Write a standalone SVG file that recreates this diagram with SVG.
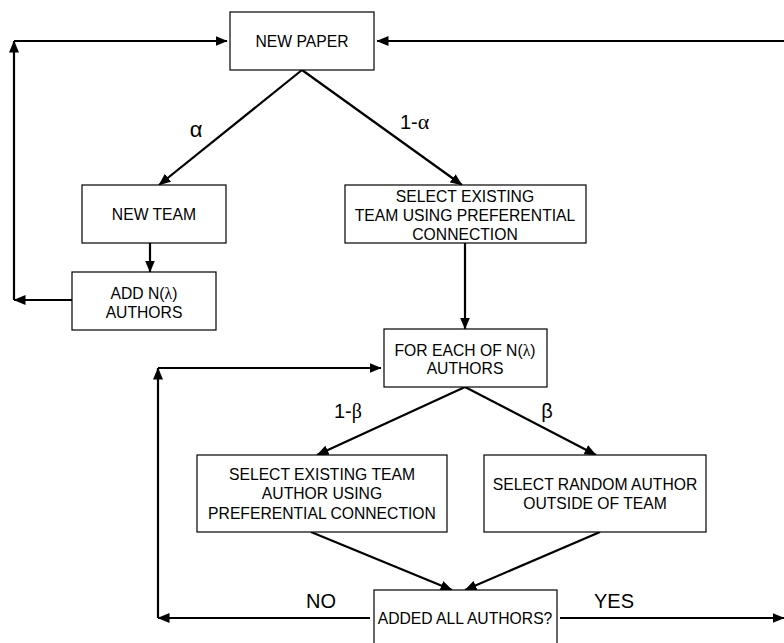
<svg xmlns="http://www.w3.org/2000/svg" width="784" height="643" viewBox="0 0 784 643">
<style>
.box{fill:#fff;stroke:#000;stroke-width:1.2}
.t{font-family:"Liberation Sans",Arial,sans-serif;font-size:15.7px;text-anchor:middle;fill:#000}
.g{font-family:"Liberation Serif","Times New Roman",serif}
.lbl{font-family:"Liberation Sans",Arial,sans-serif;font-size:20px;fill:#000}
.ga{font-size:22px}
.c{fill:none;stroke:#000;stroke-width:2.2}
</style>
<defs>
<marker id="ah" markerUnits="userSpaceOnUse" markerWidth="12" markerHeight="10" refX="11.5" refY="5" orient="auto">
<path d="M0,0 L12,5 L0,10 Z" fill="#000"/>
</marker>
</defs>
<rect width="784" height="643" fill="#fff"/>
<g id="connectors">
<line class="c" x1="14" y1="300" x2="14" y2="41" marker-end="url(#ah)"/>
<line class="c" x1="14" y1="41" x2="227" y2="41" marker-end="url(#ah)"/>
<line class="c" x1="72" y1="300" x2="14" y2="300" marker-end="url(#ah)"/>
<line class="c" x1="784" y1="41" x2="377" y2="41" marker-end="url(#ah)"/>
<line class="c" x1="302" y1="70" x2="159" y2="185" marker-end="url(#ah)"/>
<line class="c" x1="302" y1="70" x2="462" y2="185" marker-end="url(#ah)"/>
<line class="c" x1="150" y1="243" x2="150" y2="272" marker-end="url(#ah)"/>
<line class="c" x1="465" y1="243" x2="465" y2="329" marker-end="url(#ah)"/>
<line class="c" x1="158" y1="618" x2="158" y2="368" marker-end="url(#ah)"/>
<line class="c" x1="158" y1="368" x2="381" y2="368" marker-end="url(#ah)"/>
<line class="c" x1="370" y1="618" x2="158" y2="618" marker-end="url(#ah)"/>
<line class="c" x1="465" y1="387" x2="317" y2="455" marker-end="url(#ah)"/>
<line class="c" x1="465" y1="387" x2="596" y2="455" marker-end="url(#ah)"/>
<line class="c" x1="311" y1="532" x2="452" y2="590" marker-end="url(#ah)"/>
<line class="c" x1="600" y1="532" x2="465" y2="590" marker-end="url(#ah)"/>
<line class="c" x1="560" y1="618" x2="784" y2="618" marker-end="url(#ah)"/>
<text class="lbl g ga" x="196" y="137" text-anchor="middle">α</text>
<text class="lbl" x="400" y="129">1-<tspan class="g ga">α</tspan></text>
<text class="lbl" x="334" y="418">1-<tspan class="g">β</tspan></text>
<text class="lbl g" x="547" y="418" text-anchor="middle">β</text>
<text class="lbl" x="321" y="608" text-anchor="middle">NO</text>
<text class="lbl" x="614" y="608" text-anchor="middle">YES</text>
</g>
<g id="new-paper">
<rect class="box" x="230" y="12" width="144" height="58"/>
<text class="t" x="302" y="47">NEW PAPER</text>
</g>
<g id="new-team">
<rect class="box" x="82" y="185" width="144" height="58"/>
<text class="t" x="154" y="220">NEW TEAM</text>
</g>
<g id="add-authors">
<rect class="box" x="72" y="272" width="144" height="58"/>
<text class="t" x="144" y="299">ADD N(<tspan class="g">λ</tspan>)</text>
<text class="t" x="144" y="318">AUTHORS</text>
</g>
<g id="select-existing-team">
<rect class="box" x="345" y="185" width="241" height="58"/>
<text class="t" x="465" y="202">SELECT EXISTING</text>
<text class="t" x="465" y="221">TEAM USING PREFERENTIAL</text>
<text class="t" x="465" y="240">CONNECTION</text>
</g>
<g id="for-each">
<rect class="box" x="384" y="329" width="163" height="58"/>
<text class="t" x="465" y="356">FOR EACH OF N(<tspan class="g">λ</tspan>)</text>
<text class="t" x="465" y="374">AUTHORS</text>
</g>
<g id="select-team-author">
<rect class="box" x="197" y="455" width="250" height="77"/>
<text class="t" x="322" y="480">SELECT EXISTING TEAM</text>
<text class="t" x="322" y="499">AUTHOR USING</text>
<text class="t" x="322" y="519">PREFERENTIAL CONNECTION</text>
</g>
<g id="select-random-author">
<rect class="box" x="484" y="455" width="222" height="77"/>
<text class="t" x="595" y="490">SELECT RANDOM AUTHOR</text>
<text class="t" x="595" y="509">OUTSIDE OF TEAM</text>
</g>
<g id="added-all">
<rect class="box" x="374" y="590" width="183" height="80"/>
<text class="t" x="465" y="624">ADDED ALL AUTHORS?</text>
</g>
</svg>
